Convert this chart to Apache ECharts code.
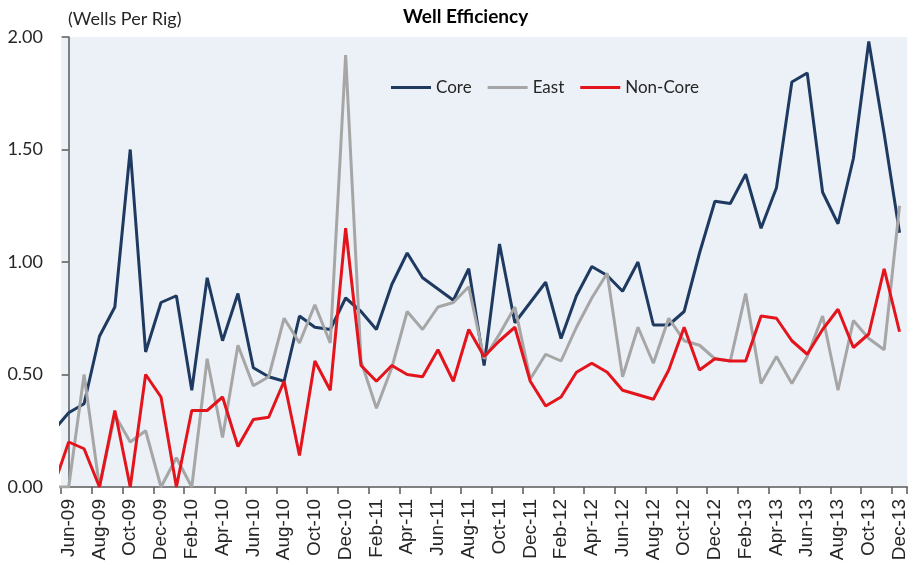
<!DOCTYPE html>
<html><head><meta charset="utf-8">
<script src="https://cdn.jsdelivr.net/npm/echarts@6/dist/echarts.min.js"></script>
<style>html,body{margin:0;padding:0;background:#fff}#c{width:909px;height:566px}</style>
</head><body><div id="c"></div>
<script>
// Category labels (monthly, Jun-09 .. Dec-13)
const months = ['Jun-09','Jul-09','Aug-09','Sep-09','Oct-09','Nov-09','Dec-09',
  'Jan-10','Feb-10','Mar-10','Apr-10','May-10','Jun-10','Jul-10','Aug-10','Sep-10','Oct-10','Nov-10','Dec-10',
  'Jan-11','Feb-11','Mar-11','Apr-11','May-11','Jun-11','Jul-11','Aug-11','Sep-11','Oct-11','Nov-11','Dec-11',
  'Jan-12','Feb-12','Mar-12','Apr-12','May-12','Jun-12','Jul-12','Aug-12','Sep-12','Oct-12','Nov-12','Dec-12',
  'Jan-13','Feb-13','Mar-13','Apr-13','May-13','Jun-13','Jul-13','Aug-13','Sep-13','Oct-13','Nov-13','Dec-13'];

// Month preceding the visible range (its segment is clipped at the y-axis)
const leadMonth = 'May-09';
const leadCore = 0.25, leadEast = 0.00, leadNonCore = 0.00;

const core = [0.33,0.37,0.67,0.80,1.50,0.60,0.82,
  0.85,0.43,0.93,0.65,0.86,0.53,0.49,0.47,0.76,0.71,0.70,0.84,
  0.78,0.70,0.90,1.04,0.93,0.88,0.83,0.97,0.54,1.08,0.73,0.82,
  0.91,0.66,0.85,0.98,0.94,0.87,1.00,0.72,0.72,0.78,1.04,1.27,
  1.26,1.39,1.15,1.33,1.80,1.84,1.31,1.17,1.46,1.98,1.57,1.13];

const east = [0.00,0.50,0.00,0.32,0.20,0.25,0.00,
  0.13,0.00,0.57,0.22,0.63,0.45,0.49,0.75,0.64,0.81,0.64,1.92,
  0.56,0.35,0.53,0.78,0.70,0.80,0.82,0.89,0.57,0.68,0.80,0.48,
  0.59,0.56,0.71,0.84,0.95,0.49,0.71,0.55,0.75,0.65,0.63,0.57,
  0.56,0.86,0.46,0.58,0.46,0.58,0.76,0.43,0.74,0.66,0.61,1.25];

const nonCore = [0.20,0.17,0.00,0.34,0.00,0.50,0.40,
  0.00,0.34,0.34,0.40,0.18,0.30,0.31,0.47,0.14,0.56,0.43,1.15,
  0.54,0.47,0.54,0.50,0.49,0.61,0.47,0.70,0.58,0.65,0.71,0.47,
  0.36,0.40,0.51,0.55,0.51,0.43,0.41,0.39,0.52,0.71,0.52,0.57,
  0.56,0.56,0.76,0.75,0.65,0.59,0.70,0.79,0.62,0.68,0.97,0.69];

const seriesNames = ['Core','East','Non-Core'];
const yMin = 0, yMax = 2, yStep = 0.5;

const chart = echarts.init(document.getElementById('c'), null, {renderer:'canvas'});
const toPts = (lead, arr) => [[-1, lead]].concat(arr.map((v, i) => [i, v]));
const axisColor = '#595959';
const txt = '#262626';

const option = {
  animation: false,
  backgroundColor: '#ffffff',
  title: [
    {text: 'Well Efficiency', left: 403, top: 7, padding: 0,
     textStyle: {fontFamily: 'Lato', fontWeight: 'bold', fontSize: 19, color: '#000'}},
    {text: '(Wells Per Rig)', left: 68, top: 10, padding: 0,
     textStyle: {fontFamily: 'Lato', fontWeight: 'normal', fontSize: 18, color: txt}}
  ],
  legend: {
    data: seriesNames, left: 391, top: 79, padding: 0, itemGap: 16,
    icon: 'rect', itemWidth: 40, itemHeight: 3,
    textStyle: {fontFamily: 'Lato', fontSize: 17, color: txt}
  },
  grid: {left: 61, right: -3, top: 37, bottom: 79, show: true,
         backgroundColor: '#ECF0F7', borderWidth: 0, containLabel: false},
  xAxis: [
    {type: 'category', data: months, boundaryGap: true, position: 'bottom',
     axisLine: {lineStyle: {color: axisColor, width: 1.5}},
     axisTick: {show: true, interval: 1, length: 7, lineStyle: {color: axisColor, width: 1.5}},
     axisLabel: {interval: 1, rotate: 90, margin: 12, fontFamily: 'Liberation Sans', fontSize: 19, color: txt,
                 padding: [8, 0, 0, 0]},
     splitLine: {show: false}},
    {type: 'value', min: -0.5, max: months.length - 0.5, show: false, splitLine: {show: false}}
  ],
  yAxis: {
    type: 'value', min: yMin, max: yMax, interval: yStep,
    splitLine: {show: false},
    axisLine: {show: true, lineStyle: {color: axisColor, width: 1.5}},
    axisTick: {show: true, length: 7, lineStyle: {color: axisColor, width: 1.5}},
    axisLabel: {formatter: v => v.toFixed(2), margin: 18, fontFamily: 'Lato', fontSize: 18, color: txt}
  },
  series: [
    {name: 'Core', type: 'line', xAxisIndex: 1, data: toPts(leadCore, core), showSymbol: false, symbol: 'none',
     lineStyle: {color: '#1F3A60', width: 3}, itemStyle: {color: '#1F3A60'}, clip: true},
    {name: 'East', type: 'line', xAxisIndex: 1, data: toPts(leadEast, east), showSymbol: false, symbol: 'none',
     lineStyle: {color: '#A6A6A6', width: 3}, itemStyle: {color: '#A6A6A6'}, clip: true},
    {name: 'Non-Core', type: 'line', xAxisIndex: 1, data: toPts(leadNonCore, nonCore), showSymbol: false, symbol: 'none',
     lineStyle: {color: '#E3141C', width: 3}, itemStyle: {color: '#E3141C'}, clip: true}
  ]
};
chart.setOption(option);
</script></body></html>
